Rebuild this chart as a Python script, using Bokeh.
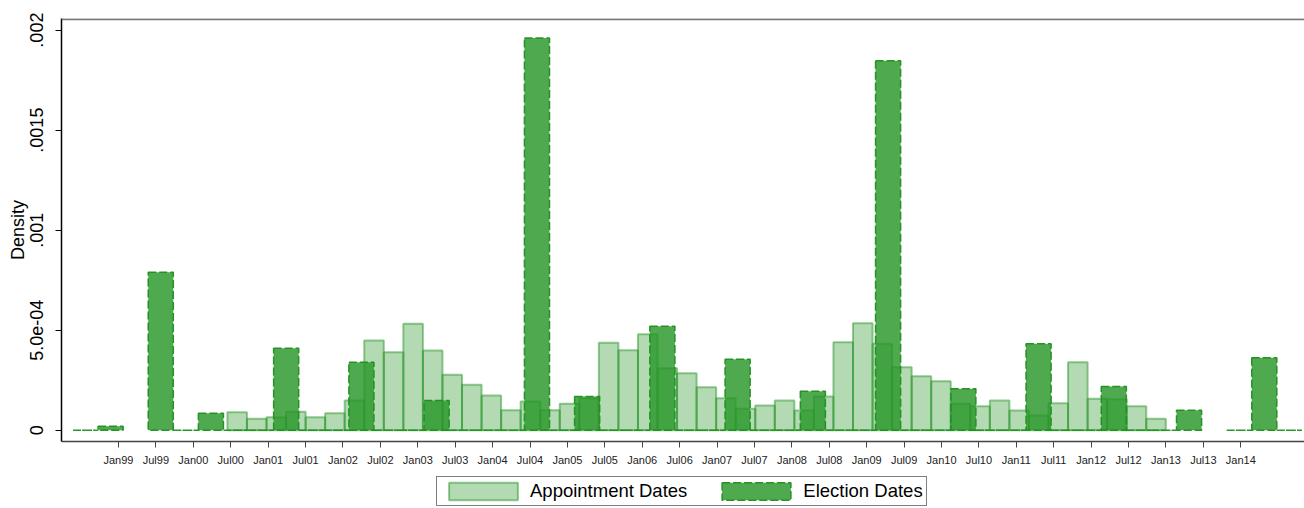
from bokeh.plotting import figure
from bokeh.layouts import column
from bokeh.models import (ColumnDataSource, FixedTicker, Legend, LegendItem,
                          Span, Range1d)
from bokeh.embed import file_html
from bokeh.resources import INLINE

# ---------------- data ----------------
# x unit: months since January 1999
TICK_MONTHS = [0, 6, 12, 18, 24, 30, 36, 42, 48, 54, 60, 66, 72, 78, 84, 90,
               96, 102, 108, 114, 120, 126, 132, 138, 144, 150, 156, 162, 168,
               174, 180]
TICK_LABELS = ["Jan99", "Jul99", "Jan00", "Jul00", "Jan01", "Jul01", "Jan02",
               "Jul02", "Jan03", "Jul03", "Jan04", "Jul04", "Jan05", "Jul05",
               "Jan06", "Jul06", "Jan07", "Jul07", "Jan08", "Jul08", "Jan09",
               "Jul09", "Jan10", "Jul10", "Jan11", "Jul11", "Jan12", "Jul12",
               "Jan13", "Jul13", "Jan14"]

Y_TICKS = [0, 0.0005, 0.001, 0.0015, 0.002]
Y_LABELS = ["0", "5.0e-04", ".001", ".0015", ".002"]

SERIES = ["Appointment Dates", "Election Dates"]

# Appointment dates histogram (density per bin)
APPT_START = 17.466     # months since Jan 1999
APPT_WIDTH = 3.1355     # months
APPT_DENSITY = [
    0.000090, 0.000057, 0.000065, 0.000092, 0.000065, 0.000085, 0.000148,
    0.000448, 0.000390, 0.000532, 0.000398, 0.000277, 0.000227, 0.000173,
    0.000100, 0.000143, 0.000100, 0.000132, 0.000160, 0.000437, 0.000400,
    0.000480, 0.000310, 0.000285, 0.000215, 0.000160, 0.000107, 0.000123,
    0.000148, 0.000098, 0.000168, 0.000440, 0.000535, 0.000432, 0.000315,
    0.000270, 0.000245, 0.000132, 0.000120, 0.000148, 0.000098, 0.000073,
    0.000135, 0.000340, 0.000157, 0.000155, 0.000120, 0.000057,
]

# Election dates histogram (density per bin, None = no bar drawn)
ELEC_START = -7.30      # months since Jan 1999
ELEC_WIDTH = 4.0225     # months
ELEC_DENSITY = [
    0, 0.00002, None, 0.00079, 0, 0.000085, 0, 0, 0.00041, 0,
    0, 0.00034, 0, 0, 0.000148, 0, 0, 0, 0.00196, 0,
    0.000168, 0, 0, 0.00052, 0, 0, 0.000355, 0, 0, 0.000195,
    0, 0, 0.001847, 0, 0, 0.000207, 0, 0, 0.000432, 0,
    0, 0.000218, 0, 0, 0.00010, None, 0, 0.000362, 0,
]

# ---------------- sources ----------------
def hist_source(start, width, dens):
    left, right, top = [], [], []
    for i, d in enumerate(dens):
        if d is None:
            continue
        left.append(start + i * width)
        right.append(start + (i + 1) * width)
        top.append(d)
    return ColumnDataSource(dict(left=left, right=right, top=top,
                                 bottom=[0] * len(top)))

src_app = hist_source(APPT_START, APPT_WIDTH, APPT_DENSITY)
src_el = hist_source(ELEC_START, ELEC_WIDTH, ELEC_DENSITY)

GREEN = "#289628"
APP_STYLE = dict(fill_color=GREEN, fill_alpha=0.35,
                 line_color=GREEN, line_alpha=0.5, line_width=2)
EL_STYLE = dict(fill_color=GREEN, fill_alpha=0.82,
                line_color="#1f8f1f", line_alpha=0.95, line_width=1.5,
                line_dash="8 3")
FONT = "Liberation Sans"

# ---------------- main figure ----------------
p = figure(width=1304, height=470,
           x_range=Range1d(-9.142, 190.217),
           y_range=Range1d(-0.0000565, 0.002058),
           output_backend="svg", toolbar_location=None,
           min_border_left=61, min_border_right=0,
           min_border_top=18, min_border_bottom=29)

p.xgrid.visible = False
p.ygrid.visible = False
p.outline_line_color = None
p.background_fill_color = "white"
p.border_fill_color = "white"

p.quad(left="left", right="right", top="top", bottom="bottom",
       source=src_app, **APP_STYLE)
p.quad(left="left", right="right", top="top", bottom="bottom",
       source=src_el, **EL_STYLE)

# top border of the plot region
p.add_layout(Span(location=0.002054, dimension="width", line_color="#777777",
                  line_width=2))

# y axis
ya = p.yaxis[0]
ya.ticker = FixedTicker(ticks=Y_TICKS)
ya.major_label_overrides = dict(zip(Y_TICKS, Y_LABELS))
ya.major_label_orientation = "vertical"
ya.major_label_text_font = FONT
ya.major_label_text_font_size = "18px"
ya.major_label_text_color = "black"
ya.major_tick_out = 6
ya.major_tick_in = 0
ya.minor_tick_out = 0
ya.minor_tick_in = 0
ya.major_label_standoff = 12
ya.axis_line_color = "black"
ya.axis_line_width = 1.5
ya.major_tick_line_color = "black"
ya.axis_label = "Density"
ya.axis_label_text_font = FONT
ya.axis_label_text_font_style = "normal"
ya.axis_label_text_font_size = "18px"
ya.axis_label_text_color = "black"
ya.axis_label_standoff = 0

# x axis
xa = p.xaxis[0]
xa.ticker = FixedTicker(ticks=TICK_MONTHS)
xa.major_label_overrides = dict(zip(TICK_MONTHS, TICK_LABELS))
xa.major_label_text_font = FONT
xa.major_label_text_font_size = "11px"
xa.major_label_text_color = "#222222"
xa.major_tick_out = 6
xa.major_tick_in = 0
xa.minor_tick_out = 0
xa.minor_tick_in = 0
xa.major_label_standoff = 6
xa.axis_line_color = "#444444"
xa.axis_line_width = 1.5
xa.major_tick_line_color = "#444444"

# ---------------- legend strip ----------------
# (the legend sits below the x axis, in a strip of its own; its swatches
#  come from renderers that share the histogram sources but lie off-view)
lg = figure(width=1304, height=38, x_range=Range1d(1000, 1001),
            y_range=Range1d(1000, 1001),
            output_backend="svg", toolbar_location=None,
            x_axis_location=None, y_axis_location=None,
            min_border=0, min_border_left=0, min_border_right=0,
            min_border_top=0, min_border_bottom=0)
lg.xgrid.visible = False
lg.ygrid.visible = False
lg.outline_line_color = None
la = lg.quad(left="left", right="right", top="top", bottom="bottom",
             source=src_app, **APP_STYLE)
le = lg.quad(left="left", right="right", top="top", bottom="bottom",
             source=src_el, **EL_STYLE)
legend = Legend(items=[LegendItem(label=SERIES[0], renderers=[la]),
                       LegendItem(label=SERIES[1], renderers=[le])],
                orientation="horizontal", location=(375, 2),
                glyph_width=86, glyph_height=22, label_standoff=4,
                spacing=26, padding=3, margin=0,
                border_line_color="black", border_line_width=1,
                label_text_font=FONT, label_text_font_size="18.5px",
                label_text_color="black",
                background_fill_color="white", background_fill_alpha=1)
lg.add_layout(legend, "center")

layout = column(p, lg, spacing=0)
open("out.html", "w").write(file_html(layout, INLINE))
